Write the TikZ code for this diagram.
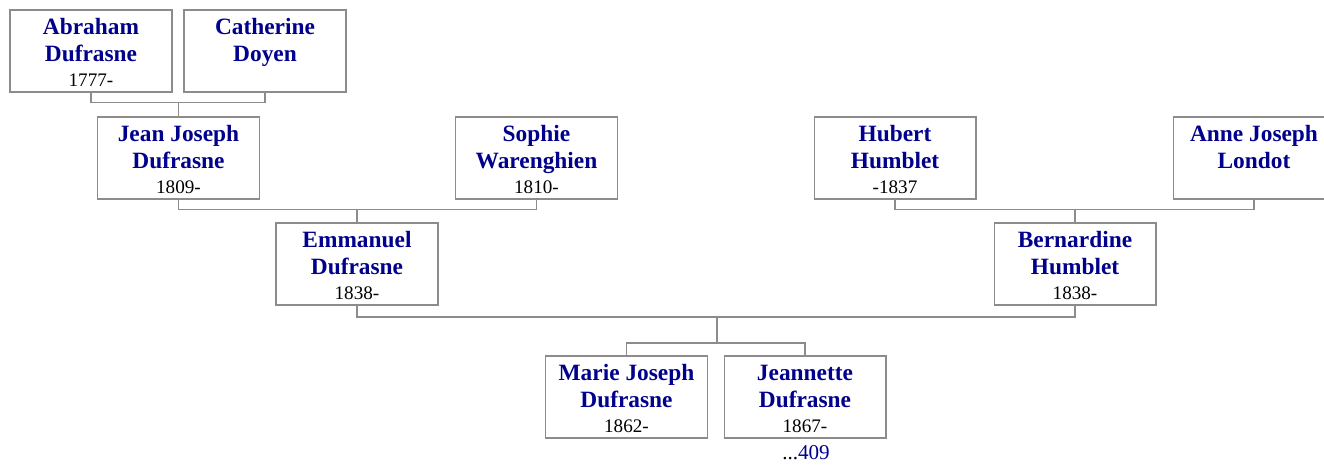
\documentclass[tikz,border=0pt]{standalone}
\usepackage{fontspec}
\setmainfont{Liberation Serif}
\usepackage{xcolor}
\usepackage{tikz}
\usetikzlibrary{positioning}
\definecolor{namecol}{RGB}{0,0,140}
\definecolor{boxgray}{RGB}{140,140,140}
\newcommand{\yearfont}{\fontsize{10.9}{13.6}\selectfont\mdseries\color{black}}

\begin{document}
\begin{tikzpicture}[
    x=0.02cm,
    y=-0.02cm,
    person/.style={rectangle,draw=boxgray,line width=0.6pt,minimum width=3.24cm,minimum height=1.64cm,inner sep=0pt,align=center,text=namecol,font=\fontsize{13.3}{15.3}\selectfont\bfseries},
    link/.style={draw=boxgray,line width=0.6pt}
]
\useasboundingbox (0,0) rectangle (1324,464);

\node[person] (abraham) at (91,51) {\strut Abraham\\Dufrasne\\[-0.8pt]{\yearfont 1777-}};
\node[person] (catherine) at (265,51) {\strut Catherine\\Doyen\\[-0.8pt]{\yearfont\phantom{1777-}}};
\node[person] (jeanjoseph) at (178.5,158) {\strut Jean Joseph\\Dufrasne\\[-0.8pt]{\yearfont 1809-}};
\node[person] (sophie) at (536.5,158) {\strut Sophie\\Warenghien\\[-0.8pt]{\yearfont 1810-}};
\node[person] (hubert) at (895,158) {\strut Hubert\\Humblet\\[-0.8pt]{\yearfont -1837}};
\node[person] (annejoseph) at (1254,158) {\strut Anne Joseph\\Londot\\[-0.8pt]{\yearfont\phantom{1777-}}};
\node[person] (emmanuel) at (357,264) {\strut Emmanuel\\Dufrasne\\[-0.8pt]{\yearfont 1838-}};
\node[person] (bernardine) at (1075,264) {\strut Bernardine\\Humblet\\[-0.8pt]{\yearfont 1838-}};
\node[person] (mariejoseph) at (626.5,397) {\strut Marie Joseph\\Dufrasne\\[-0.8pt]{\yearfont 1862-}};
\node[person] (jeannette) at (805,397) {\strut Jeannette\\Dufrasne\\[-0.8pt]{\yearfont 1867-}};
\node (more) at (806,453) {\fontsize{12}{14}\selectfont...\textcolor{namecol}{409}};

% parents to children
\draw[link] (jeanjoseph.north) -- ++(0,-14) coordinate (bar1);
\draw[link] (abraham.south) |- (bar1) -| (catherine.south);
\draw[link] (emmanuel.north) -- ++(0,-13) coordinate (bar2);
\draw[link] (jeanjoseph.south) |- (bar2) -| (sophie.south);
\draw[link] (bernardine.north) -- ++(0,-13) coordinate (bar3);
\draw[link] (hubert.south) |- (bar3) -| (annejoseph.south);
\coordinate (famjoin) at (717,317);
\coordinate (kidsbar) at (717,343);
\draw[link] (emmanuel.south) |- (famjoin) -| (bernardine.south);
\draw[link] (famjoin) -- (kidsbar);
\draw[link] (mariejoseph.north) |- (kidsbar) -| (jeannette.north);

\end{tikzpicture}
\end{document}
